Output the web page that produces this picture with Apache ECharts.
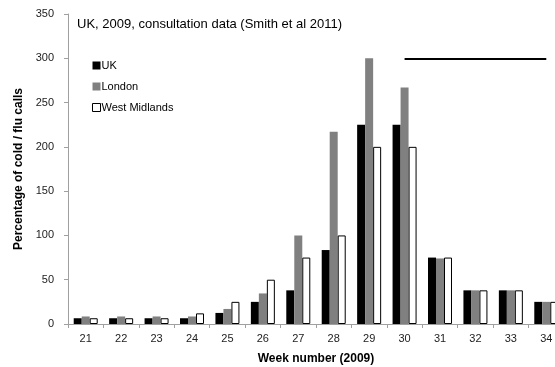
<!DOCTYPE html>
<html><head><meta charset="utf-8">
<script src="https://cdn.jsdelivr.net/npm/echarts@6/dist/echarts.min.js"></script>
<style>html,body{margin:0;padding:0;background:#fff}#c{width:555px;height:367px}</style>
</head><body><div id="c"></div>
<script>
const weeks = ['21','22','23','24','25','26','27','28','29','30','31','32','33','34'];
const ukValues = [6.5,6.5,6.5,6.5,12.5,25,38,83.5,225,225,75,38,38,25];
const londonValues = [8.5,8.5,8.5,8.5,17,34.5,100,217,300,267,74,38,38,25];
const wmValues = [6.5,6.5,6.5,12,25,50,75,100,200,200,75,38,38,25];
const yTicks = [0,50,100,150,200,250,300,350];
const refLine = {from:'30', to:'34', value:300};

const font = 'Liberation Sans, Arial, sans-serif';
const chart = echarts.init(document.getElementById('c'), null, {renderer:'canvas'});
chart.setOption({
  animation:false,
  title:{text:'UK, 2009, consultation data (Smith et al 2011)', left:72, top:13,
    textStyle:{fontFamily:font, fontSize:13, fontWeight:'normal', color:'#000'}},
  legend:{orient:'vertical', left:87, top:55, itemWidth:8, itemHeight:8, itemGap:10,
    icon:'rect', textStyle:{fontFamily:font, fontSize:11, color:'#000', padding:[0,0,0,-4]},
    data:[{name:'UK'},{name:'London'},{name:'West Midlands', itemStyle:{color:'#fff', borderColor:'#000', borderWidth:1}}]},
  grid:{left:68, top:14, bottom:43, right:-9, containLabel:false, outerBoundsMode:'none'},
  xAxis:{type:'category', data:weeks, name:'Week number (2009)', nameLocation:'middle', nameGap:29,
    nameTextStyle:{fontFamily:font, fontSize:12, fontWeight:'bold', color:'#000'},
    axisLine:{lineStyle:{color:'#a0a0a0', width:1}},
    axisTick:{show:true, length:4, lineStyle:{color:'#a0a0a0'}},
    axisLabel:{fontFamily:font, fontSize:11, color:'#222', margin:9}},
  yAxis:{type:'value', min:0, max:350, interval:50, name:'Percentage of cold / flu calls',
    nameLocation:'middle', nameGap:41, nameRotate:90,
    nameTextStyle:{fontFamily:font, fontSize:12, fontWeight:'bold', color:'#000'},
    splitLine:{show:false},
    axisLine:{show:true, lineStyle:{color:'#a0a0a0', width:1}},
    axisTick:{show:true, length:4, lineStyle:{color:'#a0a0a0'}},
    axisLabel:{fontFamily:font, fontSize:11, color:'#222', margin:14,
      formatter:v=>yTicks.includes(v)?String(v):''}},
  series:[
    {name:'UK', type:'bar', data:ukValues, barWidth:8, barGap:'0%', itemStyle:{color:'#000'}},
    {name:'London', type:'bar', data:londonValues, barWidth:8, barGap:'0%', itemStyle:{color:'#808080'},
     markLine:{symbol:'none', silent:true, label:{show:false},
       lineStyle:{color:'#000', width:2, type:'solid'},
       data:[[{coord:[refLine.from, refLine.value]},{coord:[refLine.to, refLine.value]}]]}},
    {name:'West Midlands', type:'bar', data:wmValues, barWidth:8, barGap:'0%',
     itemStyle:{color:'#fff', borderColor:'#000', borderWidth:1}}
  ]
});
</script></body></html>
